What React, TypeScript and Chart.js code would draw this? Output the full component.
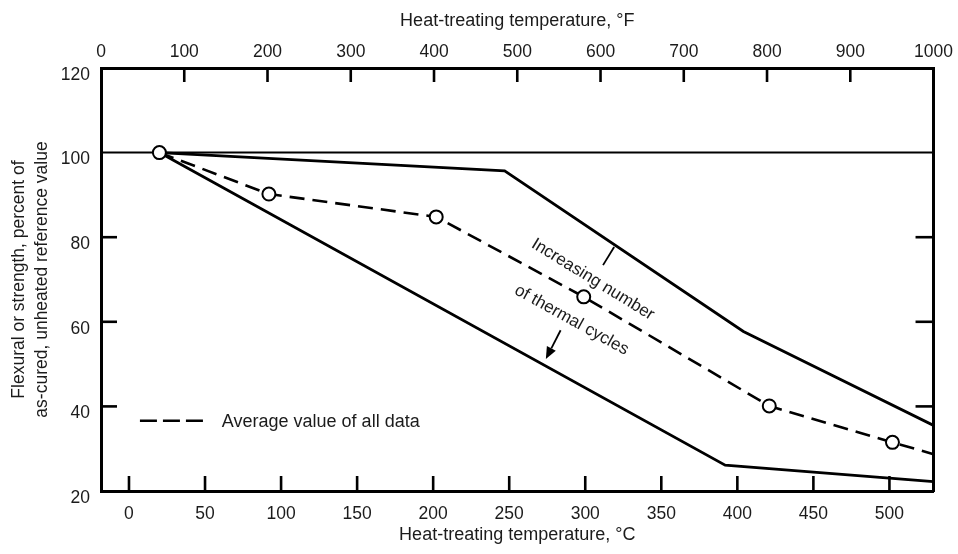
import React, { useEffect, useRef } from "react";
import { Chart, registerables } from "chart.js";

Chart.register(...registerables);

// ---- Data ----
const celsiusTicks = [0, 50, 100, 150, 200, 250, 300, 350, 400, 450, 500];
const fahrenheitTicks = [0, 100, 200, 300, 400, 500, 600, 700, 800, 900, 1000];
const valueTicks = [20, 40, 60, 80, 100, 120];
const innerFahrenheitMarks = [100, 200, 300, 400, 500, 600, 700, 800, 900];
const innerValueMarks = [40, 60, 80];

const refCelsius = [-18.4, 529];
const refValues = [100, 100];

const avgCelsius = [20, 92, 202, 299, 421, 502, 529];
const avgValues = [100, 90.2, 84.8, 65.9, 40.1, 31.5, 28.7];
const avgMarkerShown = [true, true, true, true, true, true, false];

const upperCelsius = [20, 247, 404, 529];
const upperValues = [100, 95.7, 57.7, 35.5];

const lowerCelsius = [20, 392, 529];
const lowerValues = [100, 26.1, 22.2];

// annotation anchors (data coords: °C, value)
const labelLine1 = { text: "Increasing number", c: 305, v: 70 };
const labelLine2 = { text: "of thermal cycles", c: 291, v: 60.4 };
const pointerFrom = { c: 319, v: 77.7 };
const pointerTo = { c: 311.7, v: 73.4 };
const arrowFrom = { c: 283.8, v: 58.0 };
const arrowTo = { c: 274.1, v: 51.2 };
const legendAnchor = { c0: 7.2, c1: 51.2, v: 36.6 };
const legendText = "Average value of all data";

const FONT = "'Liberation Sans', Arial, Helvetica, sans-serif";
const TEXT = "#1b1b1b";

const toPts = (xs: number[], ys: number[]) => xs.map((x, i) => ({ x, y: ys[i] }));
const plainLabel = (v: any) => String(v);

const overlayPlugin = {
  id: "overlay",
  afterDraw(chart: any) {
    const { ctx, chartArea, scales } = chart;
    const x = scales.x;
    const x2 = scales.x2;
    const y = scales.y;
    const px = (c: number) => x.getPixelForValue(c);
    const py = (v: number) => y.getPixelForValue(v);
    ctx.save();
    ctx.strokeStyle = "#000";
    ctx.lineWidth = 2.6;
    ctx.lineCap = "butt";
    const seg = (a: number, b: number, c: number, d: number) => {
      ctx.beginPath();
      ctx.moveTo(a, b);
      ctx.lineTo(c, d);
      ctx.stroke();
    };
    // inward tick marks
    celsiusTicks.forEach((c) => {
      const p = px(c);
      seg(p, chartArea.bottom, p, chartArea.bottom - 15);
    });
    innerFahrenheitMarks.forEach((f) => {
      const p = x2.getPixelForValue(f);
      seg(p, chartArea.top, p, chartArea.top + 14);
    });
    innerValueMarks.forEach((v) => {
      const p = py(v);
      seg(chartArea.left, p, chartArea.left + 16, p);
      seg(chartArea.right, p, chartArea.right - 18, p);
    });

    // pointer line
    ctx.lineWidth = 1.8;
    seg(px(pointerFrom.c), py(pointerFrom.v), px(pointerTo.c), py(pointerTo.v));

    // arrow
    const ax0 = px(arrowFrom.c), ay0 = py(arrowFrom.v);
    const ax1 = px(arrowTo.c), ay1 = py(arrowTo.v);
    const ang = Math.atan2(ay1 - ay0, ax1 - ax0);
    const headLen = 12, headW = 5;
    const bx = ax1 - headLen * Math.cos(ang), by = ay1 - headLen * Math.sin(ang);
    seg(ax0, ay0, bx, by);
    ctx.fillStyle = "#000";
    ctx.beginPath();
    ctx.moveTo(ax1, ay1);
    ctx.lineTo(bx + headW * Math.sin(ang), by - headW * Math.cos(ang));
    ctx.lineTo(bx - headW * Math.sin(ang), by + headW * Math.cos(ang));
    ctx.closePath();
    ctx.fill();

    // rotated labels
    ctx.fillStyle = TEXT;
    ctx.font = `17px ${FONT}`;
    ctx.textAlign = "center";
    ctx.textBaseline = "middle";
    const rot = (t: string, c: number, v: number, deg: number) => {
      ctx.save();
      ctx.translate(px(c), py(v));
      ctx.rotate((deg * Math.PI) / 180);
      ctx.fillText(t, 0, 0);
      ctx.restore();
    };
    rot(labelLine1.text, labelLine1.c, labelLine1.v, 31.5);
    rot(labelLine2.text, labelLine2.c, labelLine2.v, 29);

    // legend
    ctx.lineWidth = 2.6;
    ctx.setLineDash([17, 6]);
    seg(px(legendAnchor.c0), py(legendAnchor.v), px(legendAnchor.c1), py(legendAnchor.v));
    ctx.setLineDash([]);
    ctx.textAlign = "left";
    ctx.font = `18px ${FONT}`;
    ctx.fillText(legendText, px(legendAnchor.c1) + 15, py(legendAnchor.v) + 1);
    ctx.restore();
  },
};

export default function App() {
  const ref = useRef<HTMLCanvasElement | null>(null);
  useEffect(() => {
    if (!ref.current) return;
    const tickFont = { family: FONT, size: 17.5 };
    const titleFont = { family: FONT, size: 18 };
    const chart = new Chart(ref.current, {
      type: "line",
      data: {
        datasets: [
          {
            label: "Average value of all data",
            data: toPts(avgCelsius, avgValues),
            borderColor: "#000",
            borderWidth: 2.6,
            borderDash: [15, 8],
            pointRadius: avgMarkerShown.map((s) => (s ? 6.5 : 0)),
            pointBackgroundColor: "#fff",
            pointBorderColor: "#000",
            pointBorderWidth: 2,
            tension: 0,
            xAxisID: "x",
            yAxisID: "y",
          },
          {
            label: "Upper bound",
            data: toPts(upperCelsius, upperValues),
            borderColor: "#000",
            borderWidth: 2.8,
            pointRadius: 0,
            tension: 0,
            xAxisID: "x",
            yAxisID: "y",
          },
          {
            label: "Lower bound",
            data: toPts(lowerCelsius, lowerValues),
            borderColor: "#000",
            borderWidth: 2.8,
            pointRadius: 0,
            tension: 0,
            xAxisID: "x",
            yAxisID: "y",
          },
          {
            label: "Reference",
            data: toPts(refCelsius, refValues),
            borderColor: "#000",
            borderWidth: 2,
            pointRadius: 0,
            xAxisID: "x",
            yAxisID: "y",
          },
        ],
      },
      options: {
        animation: false,
        responsive: false,
        events: [],
        layout: { padding: 0 },
        plugins: {
          legend: { display: false },
          tooltip: { enabled: false },
        },
        scales: {
          x: {
            type: "linear",
            position: "bottom",
            min: -18.4,
            max: 529,
            afterBuildTicks: (s: any) => {
              s.ticks = celsiusTicks.map((value) => ({ value }));
            },
            afterFit: (s: any) => {
              s.height = 63;
            },
            ticks: { font: tickFont, color: TEXT, padding: 13, maxRotation: 0, autoSkip: false, callback: plainLabel },
            grid: { display: false, drawTicks: false },
            border: { display: true, color: "#000", width: 3 },
            title: {
              display: true,
              text: "Heat-treating temperature, °C",
              font: titleFont,
              color: TEXT,
              padding: { top: 0, bottom: 8 },
            },
          },
          x2: {
            type: "linear",
            position: "top",
            min: 0,
            max: 1000,
            afterBuildTicks: (s: any) => {
              s.ticks = fahrenheitTicks.map((value) => ({ value }));
            },
            afterFit: (s: any) => {
              s.height = 68;
            },
            ticks: { font: tickFont, color: TEXT, padding: 5, maxRotation: 0, autoSkip: false, callback: plainLabel },
            grid: { display: false, drawTicks: false },
            border: { display: true, color: "#000", width: 3 },
            title: {
              display: true,
              text: "Heat-treating temperature, °F",
              font: titleFont,
              color: TEXT,
              padding: { top: 10, bottom: 0 },
            },
          },
          y: {
            type: "linear",
            position: "left",
            min: 20,
            max: 120,
            afterBuildTicks: (s: any) => {
              s.ticks = valueTicks.map((value) => ({ value }));
            },
            afterFit: (s: any) => {
              s.width = 101;
            },
            ticks: { font: tickFont, color: TEXT, padding: 11, labelOffset: 7, callback: plainLabel },
            grid: { display: false, drawTicks: false },
            border: { display: true, color: "#000", width: 3 },
            title: {
              display: true,
              text: ["Flexural or strength, percent of", "as-cured, unheated reference value"],
              font: { family: FONT, size: 17.5, lineHeight: 1.32 },
              color: TEXT,
              padding: { top: 8, bottom: 0 },
            },
          },
          y2: {
            type: "linear",
            position: "right",
            min: 20,
            max: 120,
            afterFit: (s: any) => {
              s.width = 23;
            },
            ticks: { display: false },
            grid: { display: false, drawTicks: false },
            border: { display: true, color: "#000", width: 3 },
          },
        },
      },
      plugins: [overlayPlugin],
    } as any);
    return () => chart.destroy();
  }, []);
  return (
    <div style={{ position: "fixed", left: 0, top: 0, width: 958, height: 554, background: "#fff" }}>
      <canvas ref={ref} width={958} height={554} style={{ width: 958, height: 554, display: "block" }} />
    </div>
  );
}
